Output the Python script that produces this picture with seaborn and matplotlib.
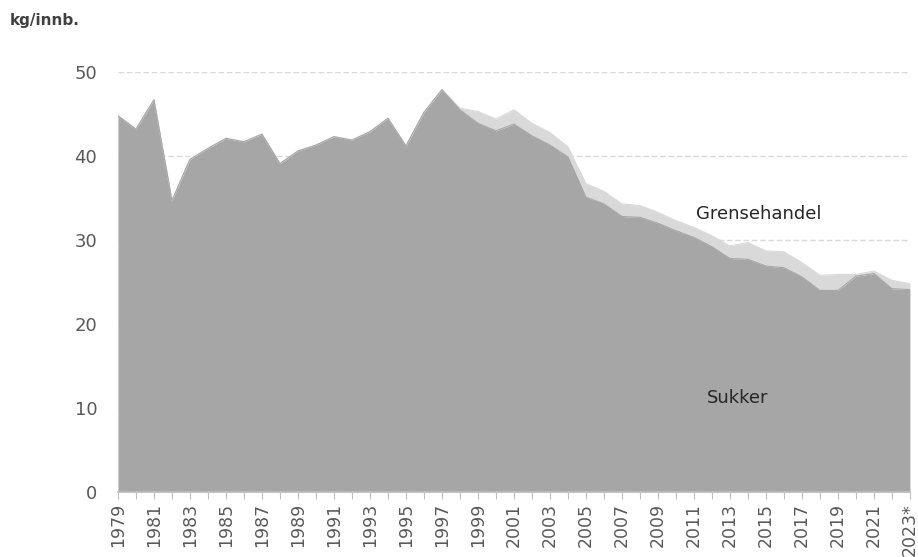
import seaborn as sns
import matplotlib.pyplot as plt
import numpy as np
import pandas as pd

# Years and series values (kg per inhabitant)
years = list(range(1979, 2024))
sukker = [44.8, 43.2, 46.7, 34.7, 39.6, 40.9, 42.1, 41.7, 42.6, 39.1,
          40.6, 41.3, 42.3, 41.9, 42.9, 44.5, 41.2, 45.2, 47.9, 45.5,
          43.9, 43.0, 43.8, 42.4, 41.3, 39.9, 35.1, 34.3, 32.8, 32.7,
          32.0, 31.1, 30.3, 29.2, 27.8, 27.7, 26.9, 26.7, 25.6, 24.0,
          24.0, 25.7, 26.0, 24.2, 24.1]
grensehandel = [0, 0, 0, 0, 0, 0, 0, 0, 0, 0,
                0, 0, 0, 0, 0, 0, 0, 0, 0, 0.2,
                1.4, 1.4, 1.7, 1.5, 1.5, 1.2, 1.6, 1.5, 1.5, 1.4,
                1.3, 1.2, 1.2, 1.3, 1.5, 2.0, 1.8, 1.9, 1.7, 1.8,
                1.9, 0.2, 0.3, 1.0, 0.7]
tick_labels = [str(y) for y in range(1979, 2022, 2)] + ["2023*"]

df = pd.DataFrame({"year": years, "Sukker": sukker, "Grensehandel": grensehandel})
df["total"] = df["Sukker"] + df["Grensehandel"]

sns.set_theme(style="white")
plt.rcParams['font.family'] = ['DejaVu Sans']

fig = plt.figure(figsize=(9.18, 5.57), dpi=100)
ax = fig.add_axes([0.1285, 0.1167, 0.8627, 0.754])

# stacked areas: dark for sugar, light for border trade
ax.stackplot(df["year"], df["Sukker"], df["Grensehandel"],
             colors=["#a6a6a6", "#d9d9d9"], linewidth=0, zorder=2)
sns.lineplot(data=df, x="year", y="total", ax=ax, color="#d9d9d9", linewidth=0.8, zorder=2)
sns.lineplot(data=df, x="year", y="Sukker", ax=ax, color="#a6a6a6", linewidth=0.8, zorder=3)

ax.set_xlim(1979, 2023)
ax.set_ylim(0, 50)
ax.set_yticks([0, 10, 20, 30, 40, 50])
ax.set_xticks(list(range(1979, 2022, 2)) + [2023])
ax.set_xticklabels(tick_labels, rotation=90)
ax.set_xticks(years, minor=True)
ax.tick_params(axis="x", which="both", bottom=True, length=5, width=0.8,
               color="#bfbfbf", pad=3)
ax.tick_params(axis="x", labelsize=12.5, labelcolor="#595959")
ax.tick_params(axis="y", labelsize=13, labelcolor="#595959", pad=15, length=0)

ax.grid(axis="y", linestyle=(0, (4, 2)), color="#d9d9d9", linewidth=1, zorder=0)
ax.set_axisbelow(True)
for side in ["top", "right", "left"]:
    ax.spines[side].set_visible(False)
ax.spines["bottom"].set_color("#bfbfbf")
ax.set_xlabel("")
ax.set_ylabel("")

ax.text(2014.6, 33.1, "Grensehandel", fontsize=13, color="#262626",
        ha="center", va="center")
ax.text(2013.4, 11.2, "Sukker", fontsize=13, color="#262626",
        ha="center", va="center")
fig.text(0.011, 0.963, "kg/innb.", fontsize=11, fontweight="bold",
         color="#404040", ha="left", va="center")

fig.savefig("out.png", dpi=100)
